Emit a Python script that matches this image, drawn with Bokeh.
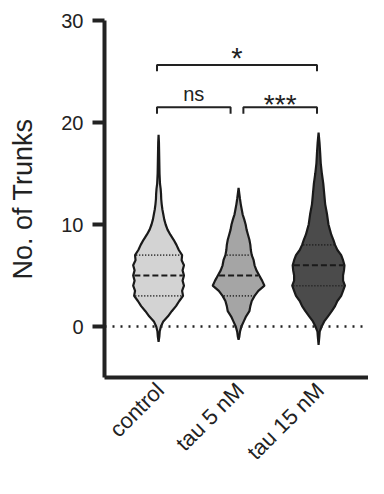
import math
import numpy as np
from bokeh.plotting import figure
from bokeh.models import Range1d, FixedTicker, Span
from bokeh.core.properties import value
from bokeh.embed import file_html
from bokeh.resources import INLINE

# ---------------- data ----------------
groups = ["control", "tau 5 nM", "tau 15 nM"]
fill_colors = ["#d3d3d3", "#a5a5a5", "#4b4b4b"]

control_y = [-1.5, -1.0, -0.5, 0, 0.5, 1.0, 1.5, 2.0, 2.5, 3.0, 3.5, 4.0, 4.5, 5.0, 5.5, 6.0, 6.5,
             7.0, 7.5, 8.0, 8.5, 9.0, 9.5, 10, 10.5, 11, 11.5, 12, 12.5, 13, 13.5, 14, 15, 16, 17, 18, 18.8]
control_density = [0, 0.8, 1.2, 2.5, 5, 10, 14, 18.5, 22, 26, 25, 27, 25.5, 27, 25.5, 27, 24.5,
                   25, 21.5, 19, 16, 12.5, 9.5, 7.5, 6, 5, 4, 3.3, 2.8, 2.6, 2.2, 1.5, 1, 0.8, 0.6, 0.4, 0]

tau5_y = [-1.3, -1.0, -0.5, 0, 0.5, 1.0, 1.5, 2.0, 2.5, 3.0, 3.5, 4.0, 4.5, 5.0, 5.5, 6.0, 6.5,
          7.0, 7.5, 8.0, 8.5, 9.0, 9.5, 10, 10.5, 11, 11.5, 12, 12.5, 13, 13.6]
tau5_density = [0, 0.8, 1.5, 3, 5.5, 8, 11.5, 12.5, 14, 17, 21, 27.5, 25, 22, 19, 17, 16,
                14, 13, 12.5, 11.5, 10, 8.5, 7.5, 6, 4.3, 3.3, 2.3, 1.5, 0.8, 0]

tau15_y = [-1.8, -1.0, -0.5, 0, 0.5, 1.0, 1.5, 2.0, 2.5, 3.0, 3.5, 4.0, 4.5, 5.0, 5.5, 6.0, 6.5,
           7.0, 7.5, 8.0, 8.5, 9.0, 9.5, 10, 11, 12, 13, 14, 15, 16, 17, 18, 19]
tau15_density = [0, 0.8, 1.2, 3.3, 6, 10, 14, 17.5, 20, 24, 26, 28, 26, 26, 27, 27.5, 26,
                 24, 20, 17.5, 15.7, 13.5, 12, 10.5, 9, 7, 6, 5, 3.5, 2.3, 1.7, 1, 0]

q1 = [3, 3, 4]
medians = [5, 5, 6]
q3 = [7, 7, 8]

# significance comparisons: (left end, right end, label)
comparisons = [(-0.02, 1.98, "*"), (-0.02, 0.90, "ns"), (1.06, 1.98, "***")]
bracket_levels = [25.64, 21.49, 21.49]

y_ticks = [0, 10, 20, 30]
y_title = "No. of Trunks"

# ---------------- figure ----------------
FONT = "Liberation Sans"
TXT = "#222222"
X0, X1 = -0.676, 2.624
Y0, Y1 = -5, 30

p = figure(width=368, height=478,
           x_range=Range1d(X0, X1), y_range=Range1d(Y0, Y1),
           output_backend="svg", toolbar_location=None,
           min_border_left=104, min_border_right=0, min_border_top=20, min_border_bottom=101)
p.outline_line_color = None
p.xgrid.visible = False
p.ygrid.visible = False
p.background_fill_color = "white"

# zero line
p.add_layout(Span(location=0, dimension="width", line_color=TXT, line_width=2.5, line_dash="2 6"))

half_max = 27.5 / 83.5  # widest half-width in category units
dmax = max(max(control_density), max(tau5_density), max(tau15_density))
ys_all = [control_y, tau5_y, tau15_y]
ds_all = [control_density, tau5_density, tau15_density]

for i, (yy, dd) in enumerate(zip(ys_all, ds_all)):
    yv = np.array(yy, dtype=float)
    wv = np.array(dd, dtype=float) / dmax * half_max
    xs = np.concatenate([i + wv, (i - wv)[::-1]])
    ys = np.concatenate([yv, yv[::-1]])
    p.patch(xs, ys, fill_color=fill_colors[i], line_color="#1a1a1a", line_width=2.2)
    for lev, dash, lw in [(q1[i], "1 2", 1.6), (medians[i], "6 3", 2), (q3[i], "1 2", 1.6)]:
        w = float(np.interp(lev, yv, wv))
        p.segment(x0=[i - w + 0.015], x1=[i + w - 0.015], y0=[lev], y1=[lev],
                  line_color="#1a1a1a", line_width=lw, line_dash=dash)

# brackets
drop = 0.62
for (xa, xb, lab), lev in zip(comparisons, bracket_levels):
    p.line([xa, xa, xb, xb], [lev - drop, lev, lev, lev - drop], line_color=TXT, line_width=2)
    if lab == "ns":
        size, off = "20px", 1.28
    elif lab == "*":
        size, off = "29px", 0.65
    else:
        size, off = "28px", 0.32
    p.text(x=[(xa + xb) / 2], y=[lev + off], text=[lab], text_align="center",
           text_baseline="alphabetic", text_font=value(FONT), text_font_size=size, text_color=TXT)

# axes
yax = p.yaxis[0]
yax.ticker = FixedTicker(ticks=y_ticks)
yax.axis_line_width = 4
yax.axis_line_color = TXT
yax.major_tick_line_width = 4
yax.major_tick_line_color = TXT
yax.major_tick_out = 12
yax.major_tick_in = 0
yax.minor_tick_line_color = None
yax.major_label_text_font = FONT
yax.major_label_text_font_size = "20px"
yax.major_label_text_color = TXT
yax.major_label_standoff = 9
yax.axis_label = y_title
yax.axis_label_text_font = FONT
yax.axis_label_text_font_style = "normal"
yax.axis_label_text_font_size = "27px"
yax.axis_label_text_color = TXT
yax.axis_label_standoff = 20

label_shift = 0.02
xax = p.xaxis[0]
xax.ticker = FixedTicker(ticks=[label_shift, 1 + label_shift, 2 + label_shift])
xax.major_label_overrides = {label_shift: groups[0], 1 + label_shift: groups[1], 2 + label_shift: groups[2]}
xax.axis_line_width = 4
xax.axis_line_color = TXT
xax.major_tick_line_color = None
xax.minor_tick_line_color = None
xax.major_label_orientation = math.pi / 4
xax.major_label_text_font = FONT
xax.major_label_text_font_size = "22px"
xax.major_label_text_color = TXT
xax.major_label_standoff = 3

open("out.html", "w").write(file_html(p, INLINE))
